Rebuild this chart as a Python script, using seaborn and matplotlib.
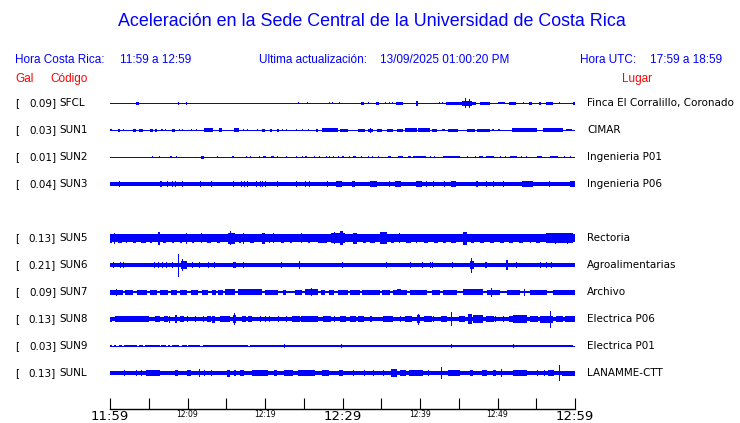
import numpy as np
import pandas as pd
import matplotlib
matplotlib.use("Agg")
import matplotlib.pyplot as plt
import seaborn as sns

# stations, in the order drawn (slot 4 is an empty row)
codes = ["SFCL", "SUN1", "SUN2", "SUN3", "SUN5", "SUN6", "SUN7", "SUN8", "SUN9", "SUNL"]
gal = [0.09, 0.03, 0.01, 0.04, 0.13, 0.21, 0.09, 0.13, 0.03, 0.13]
places = ["Finca El Corralillo, Coronado", "CIMAR", "Ingenieria P01", "Ingenieria P06",
          "Rectoria", "Agroalimentarias", "Archivo", "Electrica P06", "Electrica P01",
          "LANAMME-CTT"]
slots = [0, 1, 2, 3, 5, 6, 7, 8, 9, 10]

# background half-amplitude of each trace (px)
base_amp = [0.5, 0.5, 0.5, 1.8, 3.8, 2.2, 1.4, 2.4, 0.5, 2.0]

# bursts: (start minute, end minute, half-amplitude px)
sfcl_ev = [(3.4, 3.7, 1.5), (8.9, 8.9, 1.5), (9.8, 10.0, 1.5), (24.3, 24.3, 1), (25.5, 25.5, 1),
           (28.3, 28.3, 1), (28.7, 28.7, 1), (29.6, 29.6, 1), (32.4, 32.8, 1.5), (33.3, 33.3, 1),
           (34.3, 34.7, 1.5), (35.6, 35.6, 1), (36.1, 36.1, 1), (36.5, 36.5, 1), (36.9, 37.8, 1.5),
           (39.5, 39.7, 2.5), (42.4, 42.6, 1.2), (42.9, 42.9, 1), (43.4, 45.4, 1.5), (45.4, 46.7, 2.5),
           (45.9, 45.9, 5), (46.4, 46.4, 4.5), (46.7, 47.2, 1.5), (47.7, 49.0, 1.5), (50.1, 51.0, 1),
           (51.5, 52.4, 1.5), (53.3, 53.3, 1), (54.1, 54.5, 1.5), (55.3, 55.6, 1.5), (56.3, 57.2, 1.5),
           (58.0, 58.0, 1), (59.7, 60, 1.5)]
sun1_ev = [(0, 0.3, 1.2), (1.0, 1.3, 1.5), (1.7, 1.7, 1), (3.0, 3.4, 1.5), (3.8, 4.2, 1.5),
           (5.2, 5.5, 1.5), (5.8, 6.0, 1.5), (6.6, 6.8, 1.2), (7.2, 7.2, 1.2), (8.0, 8.4, 1.5),
           (9.0, 9.0, 1), (9.4, 9.4, 1.2), (10.5, 10.5, 1), (11.1, 11.1, 1), (12.1, 13.3, 1.8),
           (14.0, 14.4, 1.8), (16.0, 16.6, 1.6), (17.2, 17.2, 1.2), (17.8, 17.8, 1.2), (19.0, 19.0, 1),
           (19.6, 20.0, 1.5), (20.6, 20.9, 1.5), (21.6, 21.8, 1.5), (22.2, 22.2, 1.2), (22.8, 22.8, 1),
           (24.1, 24.1, 1), (24.8, 24.8, 1.2), (25.5, 25.7, 1.2), (26.6, 26.9, 1.5), (27.4, 29.4, 1.8),
           (29.7, 30.7, 1.5), (32.0, 32.9, 1.5), (33.3, 33.9, 1.5), (33.6, 33.6, 2.5), (34.4, 35.1, 1.5),
           (35.7, 36.5, 1.5), (37.0, 37.8, 1.5), (38.1, 39.6, 1.6), (39.7, 41.3, 1.6), (41.5, 42.2, 1.5),
           (42.8, 43.2, 1.2), (43.6, 44.9, 1.5), (46.1, 47.1, 1.5), (47.4, 49.0, 1.5), (49.3, 49.6, 1.2),
           (50.0, 50.3, 1.2), (51.9, 55.1, 1.6), (55.9, 58.5, 1.6), (58.9, 59.6, 1.2)]
sun2_ev = [(5.5, 5.5, 1), (6.4, 6.4, 1), (7.8, 8.0, 1.2), (8.6, 8.6, 1), (11.7, 12.1, 1.5),
           (13.9, 13.9, 1), (15.8, 16.0, 1.2), (17.6, 17.6, 1), (18.1, 18.1, 1), (19.3, 19.3, 1),
           (19.7, 20.1, 1.2), (20.8, 21.1, 1.2), (21.6, 21.6, 1), (22.8, 22.8, 1), (24.0, 24.0, 1),
           (24.9, 24.9, 1), (25.1, 25.4, 1.2), (26.4, 26.4, 1), (27.0, 27.0, 1), (27.9, 27.9, 1),
           (28.3, 28.3, 1), (28.9, 28.9, 1), (29.5, 29.5, 1), (29.9, 30.2, 1), (30.8, 31.0, 1),
           (31.4, 31.7, 1), (32.5, 32.5, 1), (33.3, 33.3, 1), (33.9, 33.9, 1), (34.7, 34.7, 1),
           (35.9, 36.3, 1.2), (37.2, 37.8, 1.2), (38.5, 38.9, 1.2), (39.1, 40.8, 1.2), (41.3, 41.3, 1),
           (41.9, 41.9, 1), (43.0, 45.2, 1.2), (46.1, 46.1, 1), (47.1, 47.1, 1), (47.6, 48.1, 1.2),
           (48.5, 49.5, 1.2), (50.4, 50.4, 1), (51.0, 51.0, 1), (51.6, 52.5, 1.2), (53.1, 53.1, 1),
           (53.8, 53.8, 1), (55.1, 55.7, 1.2), (56.8, 57.8, 1.2), (58.7, 58.7, 1), (59.4, 59.4, 1)]
sun3_ev = [(1.2, 1.2, 3), (6.5, 6.7, 3), (7.4, 7.4, 3), (8.0, 8.0, 2.8), (8.5, 8.5, 3), (9.3, 9.3, 3),
           (11.6, 11.8, 3), (13.1, 13.1, 3), (15.9, 15.9, 2.8), (17.0, 17.0, 2.8), (17.4, 17.4, 2.8),
           (17.8, 17.8, 3), (18.9, 18.9, 2.8), (19.4, 19.4, 2.8), (19.7, 19.7, 2.8), (20.1, 20.1, 3),
           (21.6, 21.6, 2.8), (24.1, 24.1, 2.8), (25.2, 25.2, 3), (25.7, 25.7, 2.8), (28.0, 28.0, 2.8),
           (29.2, 29.9, 2.8), (31.2, 31.6, 2.8), (33.5, 34.4, 2.8), (36.0, 36.0, 2.8), (36.8, 37.6, 2.8),
           (39.5, 40.3, 2.8), (40.9, 40.9, 2.8), (41.7, 41.7, 2.8), (43.2, 43.2, 2.8), (44.0, 44.6, 2.8),
           (47.2, 47.5, 2.8), (48.6, 48.6, 2.8), (49.5, 49.5, 2.8), (50.8, 50.8, 2.8), (53.1, 54.6, 2.8),
           (56.7, 56.7, 2.8), (59.4, 60, 2.8)]
sun5_ev = [(0, 0.3, 4.5), (0.6, 0.6, 5.5), (1.0, 1.5, 4.5), (2.0, 2.2, 4.5), (3.0, 3.3, 4.5), (4.0, 4.6, 4.5),
           (5.2, 5.4, 4.5), (6.2, 6.5, 6.5), (6.8, 7.2, 4.5), (8.0, 8.2, 4.5), (9.0, 9.3, 4.5), (9.9, 9.9, 5.5),
           (10.6, 10.9, 4.5), (11.8, 11.8, 5), (12.5, 13.0, 4.5), (13.8, 14.2, 4.5), (15.2, 16.1, 5.5),
           (15.6, 15.6, 7), (16.6, 16.9, 4.5), (17.2, 17.2, 5.5), (18.0, 18.6, 4.5), (19.6, 20.0, 5.5),
           (20.5, 20.7, 4.5), (21.1, 21.1, 5), (22.0, 22.4, 4.5), (23.2, 23.5, 4.5), (24.7, 24.7, 5),
           (25.5, 25.8, 4.5), (26.8, 28.0, 4.5), (28.5, 30.3, 5), (29.0, 29.0, 6), (29.7, 30.1, 7),
           (31.4, 31.9, 5.5), (32.6, 33.0, 4.5), (33.6, 34.2, 4.5), (34.8, 35.7, 6), (36.2, 36.6, 4.5),
           (37.4, 37.4, 5), (38.2, 38.8, 4.5), (39.6, 39.6, 4.5), (40.5, 41.0, 4.5), (41.8, 42.3, 4.5),
           (43.0, 43.3, 4.5), (44.0, 44.6, 4.5), (45.5, 46.1, 6.5), (46.6, 47.0, 4.5), (47.8, 48.3, 4.5),
           (49.0, 49.6, 4.5), (50.3, 50.8, 4.5), (51.5, 52.0, 4.5), (52.8, 53.3, 4.5), (54.2, 54.2, 4.5),
           (55.0, 55.5, 4.5), (56.3, 59.7, 4.8), (57.5, 57.5, 5.5), (59.0, 59.0, 5.5)]
sun6_ev = [(0.4, 0.4, 3.2), (1.3, 1.3, 3), (1.7, 1.7, 3), (5.8, 5.8, 3), (6.3, 6.3, 3), (6.8, 6.8, 3),
           (7.2, 7.4, 3), (8.0, 8.0, 3), (8.9, 8.9, 11.5), (9.1, 9.9, 4), (9.3, 9.3, 6), (10.6, 10.6, 3),
           (11.6, 11.6, 3), (12.7, 12.7, 3), (13.5, 13.5, 3), (15.9, 16.3, 3), (17.2, 17.2, 3),
           (22.1, 22.1, 3), (24.4, 24.4, 4), (30.0, 30.0, 3), (35.7, 35.7, 3), (38.7, 38.9, 3.2),
           (40.3, 40.3, 3), (41.3, 41.3, 3), (41.6, 41.6, 3), (44.2, 44.2, 2.8), (46.7, 46.7, 7.5),
           (46.5, 47.0, 4), (48.4, 48.4, 3), (48.6, 48.6, 3), (51.1, 51.3, 5), (52.5, 52.5, 3),
           (55.5, 55.5, 3), (56.3, 56.3, 3), (57.0, 57.0, 3)]
sun7_ev = [(0, 1.7, 2.5), (0.9, 0.9, 3.5), (1.9, 3.0, 2.5), (3.5, 4.8, 2.5), (5.2, 6.1, 2.5),
           (6.5, 7.5, 2.5), (7.9, 8.6, 2.5), (9.0, 9.9, 2.5), (10.5, 11.3, 2.5), (11.9, 12.6, 2.5),
           (13.1, 13.7, 2.5), (13.9, 14.6, 2.5), (14.8, 16.1, 3), (16.5, 19.6, 3), (20.0, 21.7, 2.5),
           (22.3, 22.7, 2.5), (23.9, 24.8, 2.5), (25.2, 26.8, 2.8), (26.0, 26.0, 3.8), (27.2, 27.8, 2.5),
           (28.3, 28.9, 2.5), (29.4, 30.7, 2.5), (31.0, 32.3, 2.5), (32.5, 34.8, 2.5), (35.1, 36.1, 2.5),
           (36.5, 38.3, 2.5), (37.0, 37.5, 3), (38.7, 40.9, 2.5), (41.5, 42.6, 2.5), (43.0, 44.8, 2.5),
           (45.5, 48.1, 3), (48.6, 50.3, 2.5), (49.2, 49.2, 4.5), (51.2, 52.9, 2.5), (53.5, 53.5, 3.5),
           (54.2, 56.4, 2.5), (57.2, 60, 2.5)]
sun8_ev = [(0, 0.3, 2.5), (0.6, 5.0, 2.8), (2.2, 2.2, 3), (3.7, 3.7, 3), (5.8, 6.5, 3.2), (7.0, 7.5, 2.8),
           (7.7, 7.7, 3.5), (8.4, 8.6, 4), (9.0, 9.6, 2.8), (9.9, 10.1, 3.2), (11.0, 11.0, 3),
           (12.0, 12.0, 3), (12.5, 13.0, 2.8), (13.1, 13.5, 3.5), (14.2, 15.5, 2.8), (15.9, 16.3, 4),
           (16.1, 16.1, 6), (17.0, 17.5, 2.8), (17.8, 18.3, 3), (19.4, 19.4, 3), (20.0, 20.0, 3),
           (20.6, 20.6, 3), (21.7, 21.7, 3), (22.8, 22.8, 3), (23.5, 24.5, 2.8), (24.7, 26.9, 3.2),
           (27.5, 28.5, 2.8), (29.0, 29.0, 3), (29.7, 30.5, 3), (31.0, 31.8, 2.8), (32.0, 32.8, 3),
           (33.5, 33.8, 3), (35.2, 36.5, 3.2), (37.5, 37.5, 3), (38.0, 39.0, 2.8), (39.6, 40.0, 4.2),
           (39.8, 39.8, 5.5), (40.5, 41.5, 2.8), (41.8, 41.8, 3), (42.7, 43.5, 2.8), (44.1, 44.1, 7),
           (45.0, 45.8, 2.8), (46.2, 46.7, 5), (46.8, 48.1, 4), (48.5, 49.5, 2.8), (49.8, 49.8, 3),
           (50.8, 50.8, 3), (51.5, 52.0, 2.8), (52.0, 53.8, 4), (54.2, 55.2, 2.8), (55.5, 57.2, 3.5),
           (56.9, 56.9, 8.5), (57.5, 58.5, 3), (58.7, 59.5, 3.2), (59.5, 60, 2.8)]
sun9_ev = [(0, 0.2, 1.3), (0.5, 0.8, 1.3), (1.2, 1.6, 1.3), (1.8, 3.5, 1.3), (3.7, 4.3, 1.3),
           (4.5, 6.4, 1.3), (6.6, 7.2, 1.3), (7.5, 7.7, 1.3), (8.0, 8.9, 1.3), (9.3, 9.9, 1.3),
           (10.1, 11.6, 1.3), (12.0, 17.8, 1.3), (18.0, 59.8, 1.3), (22.5, 22.5, 1.8), (29.9, 29.9, 1.8),
           (44.0, 44.0, 2), (52.0, 52.0, 1.8)]
sunl_ev = [(1.9, 1.9, 3.2), (3.4, 3.4, 2.8), (4.1, 4.1, 2.8), (4.7, 6.5, 2.6), (5.5, 5.5, 3.2),
           (8.4, 8.8, 2.6), (9.9, 10.5, 2.6), (11.6, 11.6, 3.8), (12.2, 12.2, 2.8), (13.1, 13.1, 2.8),
           (15.1, 15.5, 3.5), (16.0, 16.3, 3), (16.8, 17.3, 2.6), (18.3, 20.4, 2.8), (21.1, 21.5, 3.2),
           (22.5, 23.6, 2.6), (24.3, 26.5, 2.7), (27.3, 28.2, 3), (29.5, 30.1, 2.6), (31.4, 31.4, 2.8),
           (32.9, 32.9, 2.8), (34.0, 34.0, 2.8), (35.3, 35.3, 2.8), (36.3, 37.0, 4), (37.4, 38.2, 2.6),
           (38.6, 40.4, 2.7), (41.1, 41.1, 2.8), (42.8, 42.8, 6), (43.6, 45.2, 2.7), (46.5, 46.9, 2.6),
           (48.0, 48.6, 3), (49.4, 49.8, 2.6), (50.5, 50.5, 4), (52.0, 53.8, 2.8), (55.2, 55.2, 2.8),
           (56.1, 56.1, 2.8), (56.5, 57.3, 2.6), (58.0, 58.0, 8), (58.3, 60, 2.5)]
events = [sfcl_ev, sun1_ev, sun2_ev, sun3_ev, sun5_ev, sun6_ev, sun7_ev, sun8_ev, sun9_ev, sunl_ev]

tick_minutes = [0, 10, 20, 30, 40, 50, 60]
tick_labels = ["11:59", "12:09", "12:19", "12:29", "12:39", "12:49", "12:59"]

sns.set_theme(style="white")
plt.rcParams["font.family"] = ["DejaVu Sans"]

W, H = 740, 423
BLUE = "#0000ff"
RED = "#ff0000"
fig = plt.figure(figsize=(W / 100, H / 100), dpi=100)
fig.patch.set_facecolor("white")

def fx(x):
    return x / W

def fy(y):
    return 1 - y / H

# trace area: x 110..575 px, y 90..409 px (y axis in px, downward)
ax = fig.add_axes([fx(110), fy(409), fx(575) - fx(110), fy(90) - fy(409)])
ax.set_xlim(0, 60)
ax.set_ylim(409, 90)
ax.set_facecolor("white")

row_y0, row_step = 103, 27
min_w = 60 / 465  # one pixel in minutes
for i, code in enumerate(codes):
    yc = row_y0 + row_step * slots[i]
    b = base_amp[i]
    ax.fill_between([0, 60], yc - b, yc + b, color=BLUE, linewidth=0)
    ev = pd.DataFrame(events[i], columns=["start", "end", "amp"])
    mid = (ev["start"] + ev["end"]) / 2
    wid = np.maximum(ev["end"] - ev["start"], min_w)
    ax.bar(mid, 2 * ev["amp"], width=wid, bottom=yc - ev["amp"], color=BLUE,
           linewidth=0, align="center")

    # labels left and right
    fig.text(fx(15), fy(yc), "[", fontsize=7.5, va="center", ha="left", color="black")
    fig.text(fx(56), fy(yc), f"{gal[i]:.2f}]", fontsize=7.5, va="center", ha="right", color="black")
    fig.text(fx(59), fy(yc), code, fontsize=7.5, va="center", ha="left", color="black")
    fig.text(fx(587), fy(yc), places[i], fontsize=7.5, va="center", ha="left", color="black")

# time axis
for side in ["left", "right", "top"]:
    ax.spines[side].set_visible(False)
ax.spines["bottom"].set_color("black")
ax.spines["bottom"].set_linewidth(1)
ax.set_yticks([])
ax.set_xticks(tick_minutes)
ax.set_xticks([5, 15, 25, 35, 45, 55], minor=True)
ax.set_xticklabels(tick_labels)
ax.tick_params(axis="x", which="both", direction="in", length=8, width=0.8, color="black",
               bottom=True, pad=0.5)
for k, lab in enumerate(ax.get_xticklabels()):
    lab.set_fontsize(9.5 if k % 3 == 0 else 5.5)
    lab.set_color("black")
ax.grid(False)

# header
hf = ["Liberation Sans", "DejaVu Sans"]
fig.text(0.503, fy(22), "Aceleración en la Sede Central de la Universidad de Costa Rica",
         fontsize=12.9, color=BLUE, ha="center", va="center", family=hf)
fig.text(fx(15), fy(60), "Hora Costa Rica:", fontsize=8.5, color=BLUE, va="center", family=hf)
fig.text(fx(120), fy(60), "11:59 a 12:59", fontsize=8.5, color=BLUE, va="center", family=hf)
fig.text(fx(259), fy(60), "Ultima actualización:", fontsize=8.5, color=BLUE, va="center", family=hf)
fig.text(fx(380), fy(60), "13/09/2025 01:00:20 PM", fontsize=8.5, color=BLUE, va="center", family=hf)
fig.text(fx(580), fy(60), "Hora UTC:", fontsize=8.5, color=BLUE, va="center", family=hf)
fig.text(fx(650), fy(60), "17:59 a 18:59", fontsize=8.5, color=BLUE, va="center", family=hf)
fig.text(fx(15), fy(79), "Gal", fontsize=8.5, color=RED, va="center", family=hf)
fig.text(fx(50), fy(79), "Código", fontsize=8.5, color=RED, va="center", family=hf)
fig.text(fx(622), fy(79), "Lugar", fontsize=8.5, color=RED, va="center", family=hf)

fig.savefig("out.png", dpi=100, facecolor="white")
